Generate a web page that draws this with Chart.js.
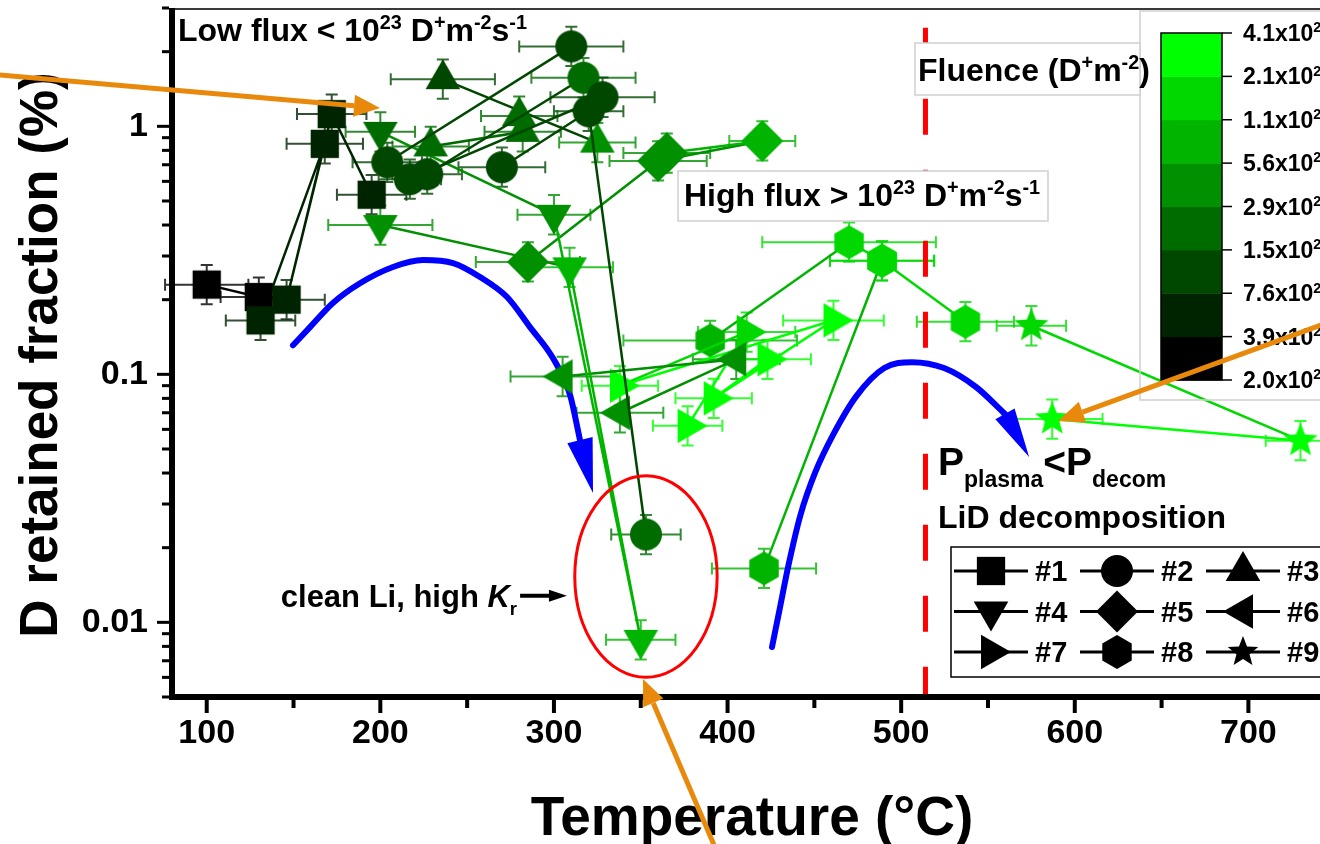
<!DOCTYPE html>
<html lang="en">
<head>
<meta charset="UTF-8">
<title>D retained fraction vs temperature</title>
<script src="https://cdn.jsdelivr.net/npm/chart.js@4.4.1/dist/chart.umd.min.js"></script>
<style>
  html, body { margin: 0; padding: 0; background: #fff; overflow: hidden; }
  #wrap { position: relative; width: 1320px; height: 844px; overflow: hidden; }
  #plot { position: absolute; left: 0; top: 0; }
</style>
</head>
<body>
<div id="wrap"><canvas id="plot" width="1460" height="844"></canvas></div>
<script>
// --- data: temperature (°C), D retained fraction (%), fluence band (0..7),
// half width of the temperature error bar (°C). null breaks the line.
const s1T = [100, 130, 131, 168, 146, 172, 195];
const s1D = [0.23, 0.205, 0.165, 0.85, 0.20, 1.12, 0.53];
const s1F = [0, 0, 1, 1, 1, 1, 1];
const s1E = [24, 22, 20, 22, 22, 20, 20];

const s2T = [204, 310, null, 227, 317, null, 217, 328, null, 270, 320, 353];
const s2D = [0.716, 2.1, null, 0.641, 1.57, null, 0.612, 1.31, null, 0.684, 1.15, 0.0226];
const s2F = [2, 2, null, 2, 3, null, 2, 2, null, 2, 2, 3];
const s2E = [20, 30, null, 20, 30, null, 18, 30, null, 25, 20, 20];

const s3T = [236, 325, null, 229, 282, 280];
const s3D = [1.55, 0.86, null, 0.83, 0.95, 1.1];
const s3F = [2, 4, null, 3, 3, 3];
const s3E = [30, 22, null, 22, 22, 22];

const s4T = [200, 309, 350, 300, 200];
const s4D = [0.40, 0.27, 0.0085, 0.44, 0.95];
const s4F = [4, 5, 5, 4, 3];
const s4E = [30, 25, 20, 21, 20];

const s5T = [285, 360, 420, 365];
const s5D = [0.284, 0.725, 0.873, 0.78];
const s5F = [4, 4, 5, 4];
const s5E = [30, 28, 19, 25];

const s6T = [305, 405, 338];
const s6D = [0.098, 0.115, 0.07];
const s6F = [4, 4, 4];
const s6E = [30, 25, 25];

const s7T = [377, 411, 338, 461, 392, 423];
const s7D = [0.062, 0.148, 0.09, 0.165, 0.08, 0.115];
const s7F = [7, 6, 7, 7, 7, 7];
const s7E = [20, 28, 22, 29, 22, 25];

const s8T = [390, 470, 489, 537, null, 421, 489];
const s8D = [0.137, 0.341, 0.287, 0.163, null, 0.0165, 0.287];
const s8F = [5, 6, 6, 6, null, 5, 6];
const s8E = [50, 50, 30, 28, null, 30, 30];

const s9T = [575, 730, 587];
const s9D = [0.157, 0.054, 0.066];
const s9F = [6, 7, 7];
const s9E = [20, 20, 29];

const seriesNames = ['#1', '#2', '#3', '#4', '#5', '#6', '#7', '#8', '#9'];
const seriesShapes = ['rect', 'circle', 'triangle', 'triangle', 'rectRot', 'triangle', 'triangle', 'hex', 'star'];
const seriesRot = [0, 0, 0, 180, 0, 270, 90, 0, 0];
const seriesSize = [20, 16, 20, 20, 21, 20, 20, 17, 18];
const yErr = 1.2;   // relative error on the retained fraction

// fluence colour bands, darkest (lowest fluence) first
const fluenceColors = ['#000000', '#002400', '#004800', '#006c00', '#009000', '#00b400', '#00d800', '#00ff00'];
const fluenceMant = ['2.0', '3.9', '7.6', '1.5', '2.9', '5.6', '1.1', '2.1', '4.1'];
const fluenceExp = ['21', '21', '21', '22', '22', '22', '23', '23', '23'];

const xTicks = [100, 200, 300, 400, 500, 600, 700, 800];
const yTicks = [0.01, 0.1, 1];
const yTickLabels = ['0.01', '0.1', '1'];

// guide curves (blue) and their arrow tips
const curveAT = [149.7, 159.5, 172.7, 188.3, 207.3, 224.6, 241.9, 257.4, 273.0, 286.2, 299.5, 309.3, 315.0];
const curveAD = [0.131, 0.155, 0.194, 0.233, 0.271, 0.289, 0.281, 0.247, 0.205, 0.155, 0.116, 0.0825, 0.0543];
const curveATip = [322.5, 0.0332];
const curveBT = [425.6, 429.9, 435.1, 442.0, 450.6, 461.0, 474.2, 490.3, 506.3, 524.7, 543.1, 559.8];
const curveBD = [0.00795, 0.0112, 0.0170, 0.0271, 0.0404, 0.0574, 0.0817, 0.106, 0.112, 0.106, 0.0889, 0.0692];
const curveBTip = [573.7, 0.0464];

const decompT = 514;                 // LiD decomposition temperature
const circledT = [312, 394];         // red ellipse extent
const circledD = [0.006, 0.039];
const cleanArrowT = [280.5, 307.5];
const cleanArrowD = 0.0128;
// orange pointers: [start T, start D, tip T, tip D]
const pointers = [
  [-24.8, 1.624, 199.8, 1.185],
  [393.4, 0.00121, 351.3, 0.00591],
  [752.8, 0.1686, 590.4, 0.0648]
];

const FAM = '"Liberation Sans", Arial, Helvetica, sans-serif';
const series = [
  [s1T, s1D, s1F, s1E], [s2T, s2D, s2F, s2E], [s3T, s3D, s3F, s3E],
  [s4T, s4D, s4F, s4E], [s5T, s5D, s5F, s5E], [s6T, s6D, s6F, s6E],
  [s7T, s7D, s7F, s7E], [s8T, s8D, s8F, s8E], [s9T, s9D, s9F, s9E]
];

function tracePath(g, shape, x, y, r, rotDeg) {
  const rot = rotDeg * Math.PI / 180;
  g.beginPath();
  if (shape === 'circle') { g.arc(x, y, r, 0, 2 * Math.PI); return; }
  if (shape === 'rect') { const h = r * Math.SQRT1_2; g.rect(x - h, y - h, 2 * h, 2 * h); return; }
  const n = { triangle: 3, rectRot: 4, hex: 6, star: 5 }[shape];
  const steps = shape === 'star' ? 2 * n : n;
  for (let k = 0; k < steps; k++) {
    const a = rot + k * 2 * Math.PI / steps;
    const rr = shape === 'star' && k % 2 ? r * 0.43 : r;
    const px = x + Math.sin(a) * rr, py = y - Math.cos(a) * rr;
    if (k) g.lineTo(px, py); else g.moveTo(px, py);
  }
  g.closePath();
}

const markerCache = {};
function markerImage(shape, rot, r, color) {
  const key = [shape, rot, r, color].join('|');
  if (!markerCache[key]) {
    const c = document.createElement('canvas');
    c.width = c.height = Math.ceil(2 * r + 4);
    const g = c.getContext('2d');
    g.fillStyle = color;
    tracePath(g, shape, c.width / 2, c.height / 2, r, rot);
    g.fill();
    markerCache[key] = c;
  }
  return markerCache[key];
}

function rich(ctx, x, y, size, parts, align) {
  // parts: [text, size factor, baseline shift (x size), italic]
  const runs = parts.map(p => {
    const font = (p[3] ? 'italic ' : '') + 'bold ' + (size * (p[1] || 1)) + 'px ' + FAM;
    ctx.font = font;
    return { t: p[0], font, w: ctx.measureText(p[0]).width, dy: (p[2] || 0) * size };
  });
  const total = runs.reduce((a, r) => a + r.w, 0);
  let cx = align === 'right' ? x - total : x;
  ctx.textAlign = 'left';
  for (const r of runs) { ctx.font = r.font; ctx.fillText(r.t, cx, y + r.dy); cx += r.w; }
  return total;
}

function arrowHead(ctx, bx, by, tx, ty, half) {
  const dx = tx - bx, dy = ty - by, L = Math.hypot(dx, dy);
  const nx = -dy / L, ny = dx / L;
  ctx.beginPath();
  ctx.moveTo(tx, ty);
  ctx.lineTo(bx + nx * half, by + ny * half);
  ctx.lineTo(bx - nx * half, by - ny * half);
  ctx.closePath();
  ctx.fill();
}

function labelBox(ctx, x0, y0, x1, y1, fill) {
  ctx.save();
  if (fill) { ctx.fillStyle = '#fff'; ctx.fillRect(x0, y0, x1 - x0, y1 - y0); }
  ctx.strokeStyle = '#cfcfcf';
  ctx.lineWidth = 1.5;
  ctx.strokeRect(x0, y0, x1 - x0, y1 - y0);
  ctx.restore();
}

const SUP = 0.62, UP = -0.38;

const decor = {
  id: 'decor',
  beforeDatasetsDraw(chart) {
    const { ctx, scales: { x, y } } = chart;
    ctx.save();
    ctx.lineWidth = 2;
    ctx.globalAlpha = 0.8;
    series.forEach(([T, D, F, E]) => {
      T.forEach((t, k) => {
        if (t == null) return;
        const d = D[k];
        const cx = x.getPixelForValue(t), cy = y.getPixelForValue(d);
        const x0 = x.getPixelForValue(t - E[k]), x1 = x.getPixelForValue(t + E[k]);
        const y0 = y.getPixelForValue(d * yErr), y1 = y.getPixelForValue(d / yErr);
        ctx.strokeStyle = fluenceColors[F[k]];
        ctx.beginPath();
        ctx.moveTo(x0, cy); ctx.lineTo(x1, cy);
        ctx.moveTo(x0, cy - 6); ctx.lineTo(x0, cy + 6);
        ctx.moveTo(x1, cy - 6); ctx.lineTo(x1, cy + 6);
        ctx.moveTo(cx, y0); ctx.lineTo(cx, y1);
        ctx.moveTo(cx - 6, y0); ctx.lineTo(cx + 6, y0);
        ctx.moveTo(cx - 6, y1); ctx.lineTo(cx + 6, y1);
        ctx.stroke();
      });
    });
    ctx.restore();
  },
  afterDatasetsDraw(chart) {
    const { ctx, chartArea: a, scales: { x, y } } = chart;
    ctx.save();

    // blue arrow tips
    ctx.fillStyle = '#0000ff';
    arrowHead(ctx, x.getPixelForValue(curveAT[curveAT.length - 1]), y.getPixelForValue(curveAD[curveAD.length - 1]),
      x.getPixelForValue(curveATip[0]), y.getPixelForValue(curveATip[1]), 13);
    arrowHead(ctx, x.getPixelForValue(curveBT[curveBT.length - 1]), y.getPixelForValue(curveBD[curveBD.length - 1]),
      x.getPixelForValue(curveBTip[0]), y.getPixelForValue(curveBTip[1]), 11);

    // LiD decomposition line
    const xd = x.getPixelForValue(decompT);
    ctx.strokeStyle = '#ff0000';
    ctx.lineWidth = 5;
    ctx.setLineDash([36, 35]);
    ctx.beginPath();
    ctx.moveTo(xd, y.getPixelForValue(2.5));
    ctx.lineTo(xd, a.bottom);
    ctx.stroke();
    ctx.setLineDash([]);

    // ellipse round the clean-Li points
    const ex0 = x.getPixelForValue(circledT[0]), ex1 = x.getPixelForValue(circledT[1]);
    const ey0 = y.getPixelForValue(circledD[1]), ey1 = y.getPixelForValue(circledD[0]);
    ctx.lineWidth = 3;
    ctx.beginPath();
    ctx.ellipse((ex0 + ex1) / 2, (ey0 + ey1) / 2, (ex1 - ex0) / 2, (ey1 - ey0) / 2, 0, 0, 2 * Math.PI);
    ctx.stroke();

    // flux labels
    ctx.fillStyle = '#000';
    ctx.textBaseline = 'alphabetic';
    rich(ctx, 178, 41, 32, [['Low flux < 10'], ['23', SUP, UP], [' D'], ['+', SUP, UP], ['m'], ['-2', SUP, UP], ['s'], ['-1', SUP, UP]]);
    labelBox(ctx, 678, 171, 1048, 221, true);
    ctx.fillStyle = '#000';
    rich(ctx, 684, 206, 32, [['High flux > 10'], ['23', SUP, UP], [' D'], ['+', SUP, UP], ['m'], ['-2', SUP, UP], ['s'], ['-1', SUP, UP]]);

    // colour scale
    labelBox(ctx, 1140, 11, 1500, 400, false);
    labelBox(ctx, 915, 43, 1140, 95, true);
    ctx.fillStyle = '#000';
    rich(ctx, 918, 81, 32, [['Fluence (D'], ['+', SUP, UP], ['m'], ['-2', SUP, UP], [')']]);
    const cbL = 1161, cbR = 1222, cbT = 33, cbB = 380;
    const band = (cbB - cbT) / fluenceColors.length;
    fluenceColors.forEach((c, i) => {
      ctx.fillStyle = c;
      ctx.fillRect(cbL, cbB - (i + 1) * band, cbR - cbL, band + 0.5);
    });
    ctx.strokeStyle = '#000';
    ctx.lineWidth = 1.5;
    ctx.strokeRect(cbL, cbT, cbR - cbL, cbB - cbT);
    ctx.fillStyle = '#000';
    fluenceMant.forEach((m, i) => {
      const yy = cbB - i * band;
      ctx.beginPath(); ctx.moveTo(cbR, yy); ctx.lineTo(cbR + 10, yy); ctx.stroke();
      rich(ctx, 1243, yy + 8, 23, [[m + 'x10'], [fluenceExp[i], SUP, UP]]);
    });

    // legend
    ctx.fillStyle = '#fff';
    ctx.fillRect(951, 547, 560, 130);
    ctx.strokeStyle = '#000';
    ctx.lineWidth = 1.5;
    ctx.strokeRect(951, 547, 560, 130);
    seriesNames.forEach((nm, i) => {
      const col = i % 3, row = Math.floor(i / 3);
      const cx = 991 + col * 126, cy = 571 + row * 40.5;
      ctx.strokeStyle = '#000';
      ctx.lineWidth = 3;
      ctx.beginPath(); ctx.moveTo(cx - 37, cy); ctx.lineTo(cx + 37, cy); ctx.stroke();
      ctx.fillStyle = '#000';
      tracePath(ctx, seriesShapes[i], cx, cy, seriesSize[i] - (seriesShapes[i] === 'star' ? 2 : 0), seriesRot[i]);
      ctx.fill();
      ctx.font = 'bold 29px ' + FAM;
      ctx.textBaseline = 'middle';
      ctx.textAlign = 'left';
      ctx.fillText(nm, cx + 44, cy + 2);
    });
    ctx.textBaseline = 'alphabetic';

    // decomposition notes
    ctx.fillStyle = '#000';
    rich(ctx, 938, 475, 39, [['P'], ['plasma', 0.59, 0.31], ['<P'], ['decom', 0.59, 0.31]]);
    rich(ctx, 938, 528, 32, [['LiD decomposition']]);

    // clean Li pointer
    const ax0 = x.getPixelForValue(cleanArrowT[0]), ax1 = x.getPixelForValue(cleanArrowT[1]);
    const ay = y.getPixelForValue(cleanArrowD);
    ctx.strokeStyle = '#000';
    ctx.lineWidth = 4;
    ctx.beginPath(); ctx.moveTo(ax0, ay); ctx.lineTo(ax1 - 14, ay); ctx.stroke();
    ctx.fillStyle = '#000';
    arrowHead(ctx, ax1 - 18, ay, ax1, ay, 6);
    rich(ctx, ax0 - 3, ay + 11, 31, [['clean Li, high '], ['K', 1, 0, true], ['r', 0.6, 0.25]], 'right');
    ctx.restore();
  },
  afterDraw(chart) {
    const { ctx, chartArea: a, scales: { x, y } } = chart;
    const W = chart.width;
    ctx.save();
    // frame
    ctx.strokeStyle = '#3a3a3a';
    ctx.lineWidth = 2;
    ctx.beginPath(); ctx.moveTo(a.left, a.top + 1); ctx.lineTo(W, a.top + 1); ctx.stroke();
    ctx.fillStyle = '#000';
    ctx.fillRect(a.left - 3, a.top, 6, a.bottom - a.top + 3);
    ctx.fillRect(a.left - 3, a.bottom - 3, W, 6);
    // log ticks on the left
    for (let e = -3; e <= 0; e++) {
      for (let m = 1; m <= 9; m++) {
        const v = m * Math.pow(10, e);
        if (v < y.min * 0.999 || v > y.max * 1.001) continue;
        const yy = y.getPixelForValue(v);
        const len = m === 1 ? 12 : 7;
        ctx.fillRect(a.left - 3 - len, yy - 1.5, len, 3);
      }
    }
    // temperature ticks
    for (let t = 100; t <= 800; t += 50) {
      const xx = x.getPixelForValue(t);
      const len = t % 100 === 0 ? 13 : 8;
      ctx.fillRect(xx - 2, a.bottom + 3, 4, len);
    }
    // axis titles
    ctx.textAlign = 'center';
    ctx.textBaseline = 'alphabetic';
    ctx.font = 'bold 55px ' + FAM;
    ctx.fillText('Temperature (°C)', 752, 835);
    ctx.save();
    ctx.translate(57, 355);
    ctx.rotate(-Math.PI / 2);
    ctx.font = 'bold 53px ' + FAM;
    ctx.fillText('D retained fraction (%)', 0, 0);
    ctx.restore();

    // orange pointers
    ctx.strokeStyle = ctx.fillStyle = '#e8890c';
    ctx.lineWidth = 5;
    pointers.forEach(([t0, d0, t1, d1]) => {
      const sx = x.getPixelForValue(t0), sy = y.getPixelForValue(d0);
      const tx = x.getPixelForValue(t1), ty = y.getPixelForValue(d1);
      const L = Math.hypot(tx - sx, ty - sy);
      const bx = tx - (tx - sx) / L * 26, by = ty - (ty - sy) / L * 26;
      ctx.beginPath(); ctx.moveTo(sx, sy); ctx.lineTo(bx, by); ctx.stroke();
      arrowHead(ctx, bx, by, tx, ty, 11);
    });
    ctx.restore();
  }
};

const datasets = series.map(([T, D, F, E], i) => {
  const pts = T.map((t, k) => ({ x: t, y: D[k], f: F[k] }));
  const colorOf = c => (c.raw && c.raw.f != null) ? fluenceColors[c.raw.f] : '#000';
  return {
    label: seriesNames[i],
    data: pts,
    showLine: true,
    spanGaps: false,
    borderWidth: 2.5,
    borderColor: fluenceColors[F[0]],
    segment: { borderColor: sc => fluenceColors[pts[sc.p0DataIndex].f] },
    pointStyle: c => markerImage(seriesShapes[i], seriesRot[i], seriesSize[i], colorOf(c)),
    pointRadius: seriesSize[i],
    pointBackgroundColor: colorOf,
    pointBorderColor: colorOf,
    order: 1
  };
});

// blue guide curves, drawn underneath the data
[[curveAT, curveAD], [curveBT, curveBD]].forEach(([T, D], k) => {
  datasets.push({
    label: 'guide ' + (k + 1),
    data: T.map((t, j) => ({ x: t, y: D[j] })),
    showLine: true, borderColor: '#0000ff', borderWidth: 6,
    cubicInterpolationMode: 'monotone',
    borderCapStyle: 'round', pointRadius: 0, order: 10
  });
});

const tickFont = { family: FAM, size: 34, weight: 'bold', lineHeight: 1 };

new Chart(document.getElementById('plot'), {
  type: 'scatter',
  data: { datasets },
  options: {
    responsive: false,
    animation: false,
    events: [],
    layout: { autoPadding: false, padding: { left: 0, top: 8, right: 38, bottom: 0 } },
    plugins: { legend: { display: false }, tooltip: { enabled: false } },
    scales: {
      x: {
        type: 'linear', min: 80, max: 800,
        afterBuildTicks: s => { s.ticks = xTicks.map(v => ({ value: v })); },
        afterFit: s => { s.height = 147; s.paddingLeft = 0; s.paddingRight = 0; },
        grid: { display: false, drawTicks: false },
        border: { display: false },
        ticks: { color: '#000', font: tickFont, padding: 20, maxRotation: 0, autoSkip: false, callback: v => String(v) }
      },
      y: {
        type: 'logarithmic', min: 0.005, max: 3,
        afterBuildTicks: s => { s.ticks = yTicks.map(v => ({ value: v })); },
        afterFit: s => { s.width = 172; s.paddingTop = 0; s.paddingBottom = 0; },
        grid: { display: false, drawTicks: false },
        border: { display: false },
        ticks: { color: '#000', font: tickFont, padding: 24, autoSkip: false, callback: v => yTickLabels[yTicks.indexOf(v)] }
      }
    }
  },
  plugins: [decor]
});
</script>
</body>
</html>
